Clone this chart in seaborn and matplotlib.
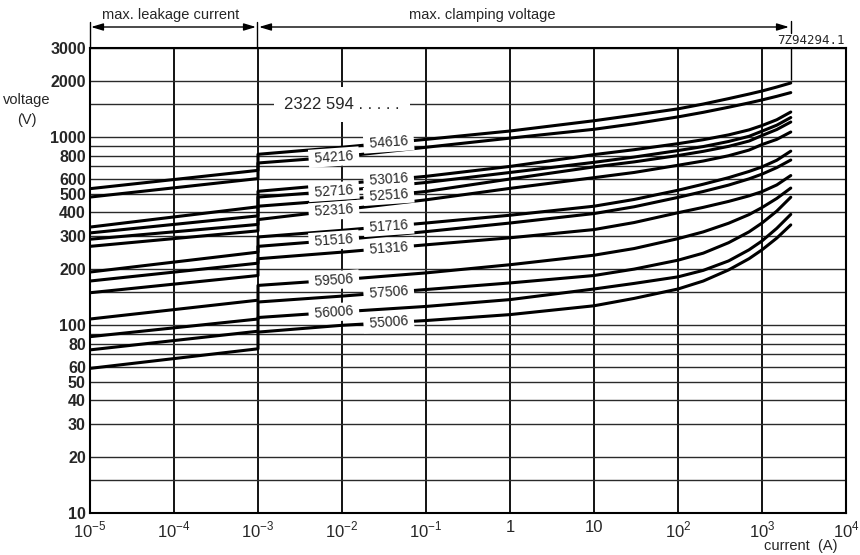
import numpy as np
import pandas as pd
import matplotlib
matplotlib.use("Agg")
import matplotlib.pyplot as plt
import matplotlib.patches as mpatches
import seaborn as sns
from matplotlib.ticker import FixedLocator, FixedFormatter, NullFormatter
from matplotlib.lines import Line2D

# ---------------- data ----------------
types = ["54616", "54216", "53016", "52716", "52516", "52316",
         "51716", "51516", "51316", "59506", "57506", "56006", "55006"]

# leakage part: current 1e-5 A .. 1e-3 A
leak_current = [1e-5, 1e-3]
leak_start = [533, 481, 333, 310, 287, 263, 192, 172, 149, 108, 87, 74, 59]
leak_end = [667, 603, 427, 382, 344, 318, 245, 214, 184, 136, 108, 93, 75]

# clamping part
clamp_current = [1e-3, 1e-2, 1e-1, 1, 10, 30, 100, 200, 400, 700, 1000, 1500, 2200]
v54616 = [812, 885, 975, 1080, 1225, 1311, 1417, 1503, 1606, 1698, 1763, 1851, 1945]
v54216 = [730, 790, 885, 990, 1103, 1180, 1284, 1358, 1445, 1524, 1580, 1652, 1729]
v53016 = [516, 565, 620, 700, 809, 859, 925, 971, 1030, 1095, 1155, 1240, 1363]
v52716 = [481, 520, 575, 650, 736, 785, 850, 893, 950, 1012, 1078, 1160, 1274]
v52516 = [430, 465, 515, 600, 696, 740, 800, 842, 895, 955, 1022, 1100, 1206]
v52316 = [365, 412, 465, 535, 610, 650, 710, 748, 798, 855, 915, 975, 1067]
v51716 = [295, 320, 350, 385, 430, 467, 523, 563, 610, 658, 696, 755, 844]
v51516 = [263, 285, 315, 350, 393, 427, 479, 515, 557, 601, 637, 690, 757]
v51316 = [226, 245, 268, 292, 323, 352, 397, 424, 456, 488, 514, 558, 626]
v59506 = [163, 175, 190, 210, 236, 256, 289, 314, 349, 388, 423, 473, 537]
v57506 = [133, 143, 155, 168, 184, 199, 222, 242, 275, 314, 350, 405, 480]
v56006 = [110, 118, 126, 137, 156, 167, 181, 196, 220, 252, 281, 328, 389]
v55006 = [92, 100, 106, 114, 127, 139, 156, 172, 197, 226, 252, 291, 342]
clamp_values = [v54616, v54216, v53016, v52716, v52516, v52316, v51716,
                v51516, v51316, v59506, v57506, v56006, v55006]

# label column (current where the type label sits)
label_current = [0.036, 0.008] * 6 + [0.036]

y_major = [10, 20, 30, 40, 50, 60, 80, 100, 200, 300, 400, 500, 600, 800,
           1000, 2000, 3000]
y_minor = [15, 70, 90, 150, 700, 900, 1500]
x_ticks = [1e-5, 1e-4, 1e-3, 1e-2, 1e-1, 1, 10, 1e2, 1e3, 1e4]
x_ticklabels = [r"$10^{-5}$", r"$10^{-4}$", r"$10^{-3}$", r"$10^{-2}$",
                r"$10^{-1}$", "1", "10", r"$10^{2}$", r"$10^{3}$", r"$10^{4}$"]

# ---------------- build table ----------------
rows = []
for name, ls, le, cv in zip(types, leak_start, leak_end, clamp_values):
    xs = leak_current + clamp_current
    ys = [ls, le] + cv
    for i, (x, y) in enumerate(zip(xs, ys)):
        rows.append(dict(type=name, order=i, current=x, voltage=y))
df = pd.DataFrame(rows)

# ---------------- figure ----------------
sns.set_theme(style="white")
plt.rcParams["font.family"] = ["Liberation Sans", "DejaVu Sans"]
plt.rcParams["mathtext.fontset"] = "custom"
plt.rcParams["mathtext.rm"] = "Liberation Sans"

W, H = 860, 555
fig = plt.figure(figsize=(W / 100, H / 100), dpi=100)
left, right, top, bottom = 90, 846, 47.6, 513.3
ax = fig.add_axes([left / W, 1 - bottom / H, (right - left) / W, (bottom - top) / H])
ax.set_xscale("log")
ax.set_yscale("log")

sns.lineplot(data=df, x="current", y="voltage", units="type", estimator=None,
             sort=False, color="black", linewidth=2.2, legend=False, ax=ax,
             zorder=3)
for ln in ax.get_lines():
    ln.set_solid_joinstyle("round")
    ln.set_solid_capstyle("round")

ax.set_xlim(1e-5, 1e4)
ax.set_ylim(10, 3000)

ax.xaxis.set_major_locator(FixedLocator(x_ticks))
ax.xaxis.set_major_formatter(FixedFormatter(x_ticklabels))
ax.xaxis.set_minor_locator(FixedLocator([]))
ax.yaxis.set_major_locator(FixedLocator(y_major))
ax.yaxis.set_major_formatter(FixedFormatter([str(v) for v in y_major]))
ax.yaxis.set_minor_locator(FixedLocator(y_minor))
ax.yaxis.set_minor_formatter(NullFormatter())

ax.grid(True, which="major", axis="x", color="black", linewidth=1.3, zorder=1)
ax.grid(True, which="both", axis="y", color="#2a2a2a", linewidth=1.0, zorder=1)
ax.set_axisbelow(True)
ax.tick_params(axis="both", which="both", length=0)
ax.tick_params(axis="y", pad=3, labelsize=11.5)
ax.tick_params(axis="x", pad=5, labelsize=12)
for lab in ax.get_yticklabels():
    lab.set_fontweight("bold")
for s in ax.spines.values():
    s.set_color("black")
    s.set_linewidth(1.5)
ax.set_xlabel("")
ax.set_ylabel("")

# type labels on the curves
for name, lx, cv in zip(types, label_current, clamp_values):
    ly = 10 ** np.interp(np.log10(lx), np.log10(clamp_current), np.log10(cv))
    ax.text(lx, ly, " " + name + " ", ha="center", va="center", fontsize=10,
            rotation=4, zorder=6,
            bbox=dict(boxstyle="square,pad=0.15", facecolor="white",
                      edgecolor="none"))

ax.text(1e-2, 1500, "2322 594 . . . . .", ha="center", va="center",
        fontsize=12, zorder=6,
        bbox=dict(boxstyle="square,pad=0.6", facecolor="white", edgecolor="none"))

# marker line at the end of the clamping range
ax.vlines(clamp_current[-1], v54616[-1] * 1.04, 3000, color="black",
          linewidth=1.0, zorder=4)


def fxy(px, py):
    return px / W, 1 - py / H


# header annotations
fig.text(*fxy(171, 15), "max. leakage current", ha="center", va="center",
         fontsize=10.5)
fig.text(*fxy(482, 15), "max. clamping voltage", ha="center", va="center",
         fontsize=10.5)
for (x0, x1) in [(91, 256), (259, 789)]:
    fig.add_artist(mpatches.FancyArrowPatch(
        fxy(x0, 27), fxy(x1, 27), transform=fig.transFigure,
        arrowstyle="<|-|>,head_length=0.6,head_width=0.18",
        mutation_scale=12, color="black", linewidth=1.0, shrinkA=0, shrinkB=0))
for (x, y0, y1) in [(90, 22, 48), (257, 22, 48), (791, 21, 33)]:
    fig.add_artist(Line2D([x / W, x / W], [1 - y0 / H, 1 - y1 / H],
                          transform=fig.transFigure, color="black",
                          linewidth=1.0))
fig.text(*fxy(845, 40), "7Z94294.1", ha="right", va="center",
         fontsize=9, family="DejaVu Sans Mono")

fig.text(*fxy(27, 100), "voltage", ha="center", va="center", fontsize=10.5)
fig.text(*fxy(27, 120), "(V)", ha="center", va="center", fontsize=10.5)
fig.text(*fxy(801, 546), "current  (A)", ha="center", va="center",
         fontsize=10.5)

fig.savefig("out.png", dpi=100, facecolor="white")
